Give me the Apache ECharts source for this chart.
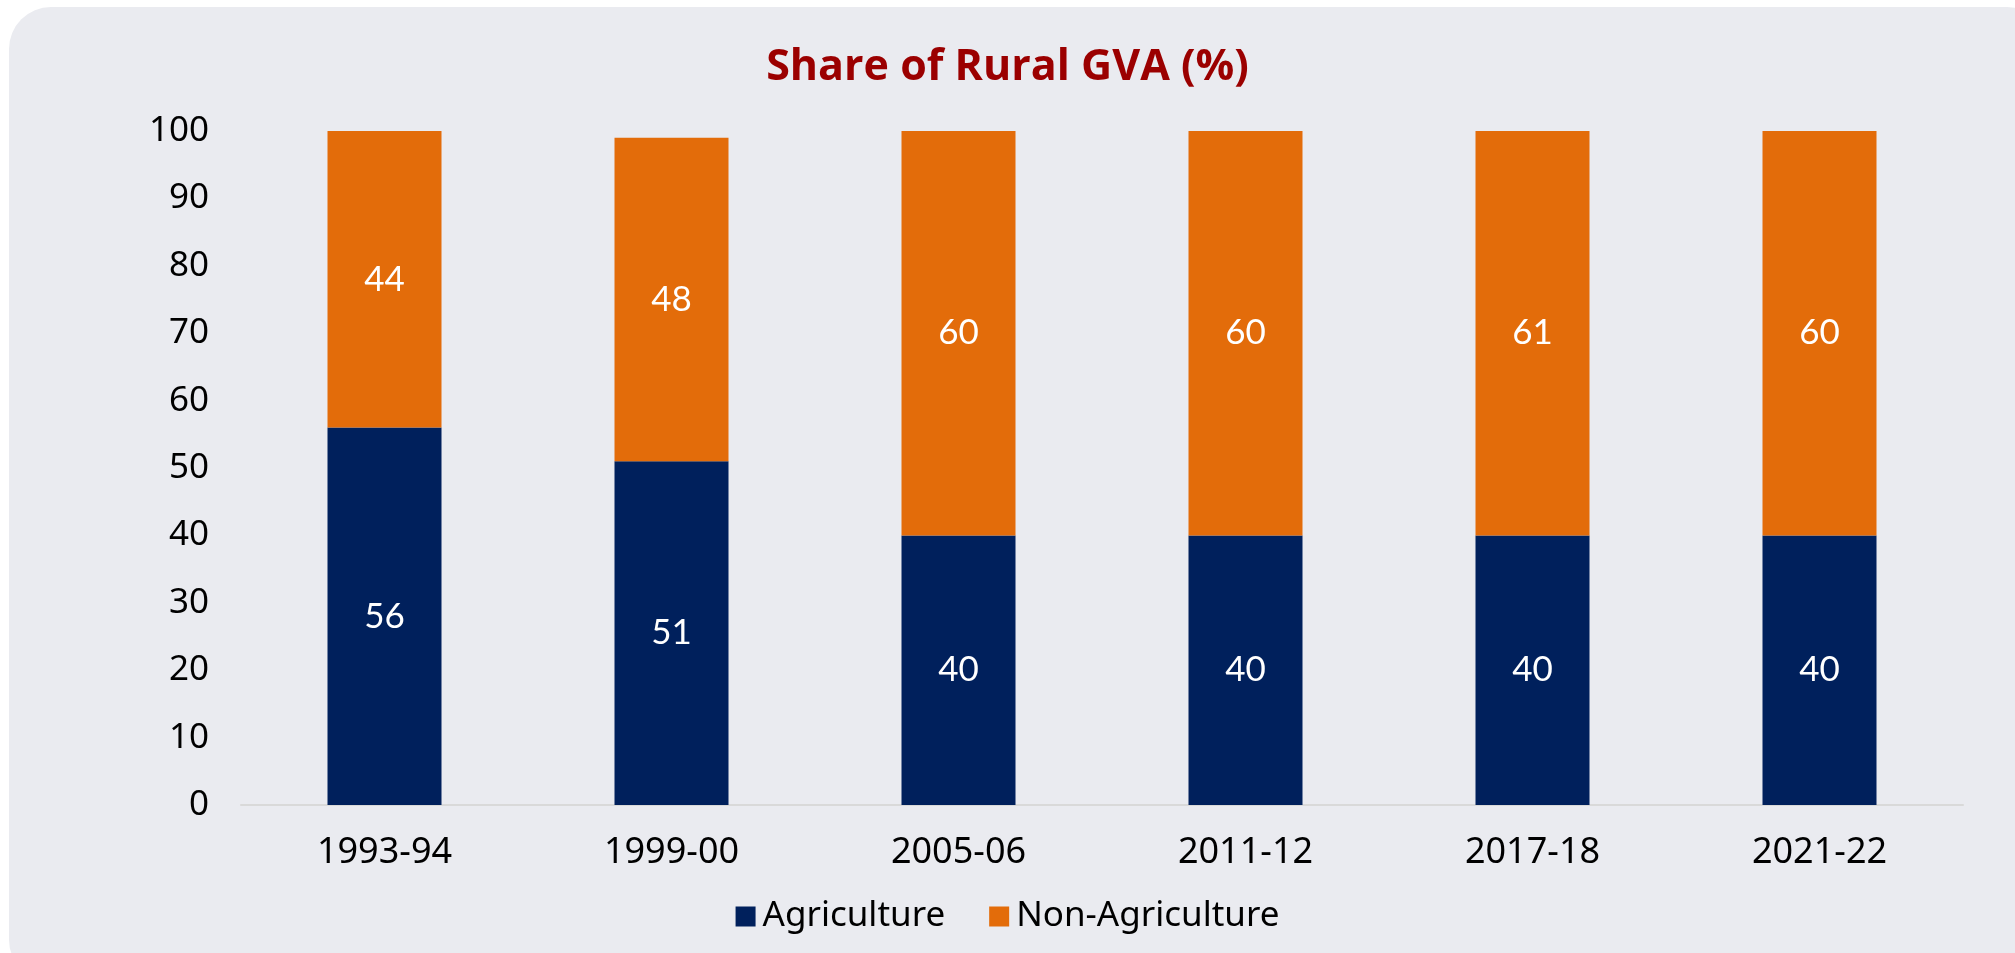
<!DOCTYPE html>
<html style="height: 100%">
<head>
    <meta charset="UTF-8">
    <title>Share of Rural GVA</title>
    <style>
        body { margin: 0; height: 100%; background: #ffffff; overflow: hidden; }
        #panel { position: absolute; left: 9px; top: 7px; width: 2040px; height: 975px; background: #eaebf0; border-radius: 42px; }
        #container { position: absolute; left: 0; top: 0; width: 2015px; height: 953px; }
    </style>
</head>
<body>
<div id="panel"></div>
<div id="container"></div>
<script src="https://cdn.jsdelivr.net/npm/echarts@6/dist/echarts.min.js"></script>
<script>
    // data
    var years = ['1993-94', '1999-00', '2005-06', '2011-12', '2017-18', '2021-22'];
    var agriculture = [56, 51, 40, 40, 40, 40];
    var nonAgriculture = [44, 48, 60, 60, 61, 60];

    var axisFont = "'Noto Sans', sans-serif";
    var labelFont = "Lato, 'Noto Sans', sans-serif";

    var myChart = echarts.init(document.getElementById('container'));
    var barLabel = {
        show: true,
        position: 'inside',
        color: '#ffffff',
        fontSize: 35,
        fontFamily: labelFont
    };
    var option = {
        backgroundColor: 'transparent',
        animation: false,
        title: {
            text: 'Share of Rural GVA (%)',
            left: 'center',
            top: 41,
            textStyle: {
                color: '#9b0000',
                fontSize: 43,
                fontWeight: 'bold',
                fontFamily: "'Open Sans', sans-serif"
            }
        },
        legend: {
            bottom: 14,
            left: 'center',
            itemWidth: 20,
            itemHeight: 20,
            itemGap: 44,
            icon: 'rect',
            textStyle: { fontSize: 35, color: '#000', fontFamily: axisFont, padding: [0, 0, 0, 2] },
            data: ['Agriculture', 'Non-Agriculture']
        },
        grid: { left: 241, right: 52, top: 131, bottom: 148 },
        xAxis: {
            type: 'category',
            data: years,
            axisTick: { show: false },
            axisLine: { lineStyle: { color: '#d9d9d9', width: 2 } },
            axisLabel: { fontSize: 36, color: '#000', margin: 30, fontFamily: axisFont }
        },
        yAxis: {
            type: 'value',
            min: 0,
            max: 100,
            interval: 10,
            splitLine: { show: false },
            axisLine: { show: false },
            axisTick: { show: false },
            axisLabel: { fontSize: 35, color: '#000', margin: 32, fontFamily: axisFont }
        },
        series: [
            {
                name: 'Agriculture',
                type: 'bar',
                stack: 'gva',
                barWidth: 114,
                itemStyle: { color: '#00205c' },
                label: barLabel,
                data: agriculture
            },
            {
                name: 'Non-Agriculture',
                type: 'bar',
                stack: 'gva',
                barWidth: 114,
                itemStyle: { color: '#e36c0a' },
                label: barLabel,
                data: nonAgriculture
            }
        ]
    };
    myChart.setOption(option);
</script>
</body>
</html>
